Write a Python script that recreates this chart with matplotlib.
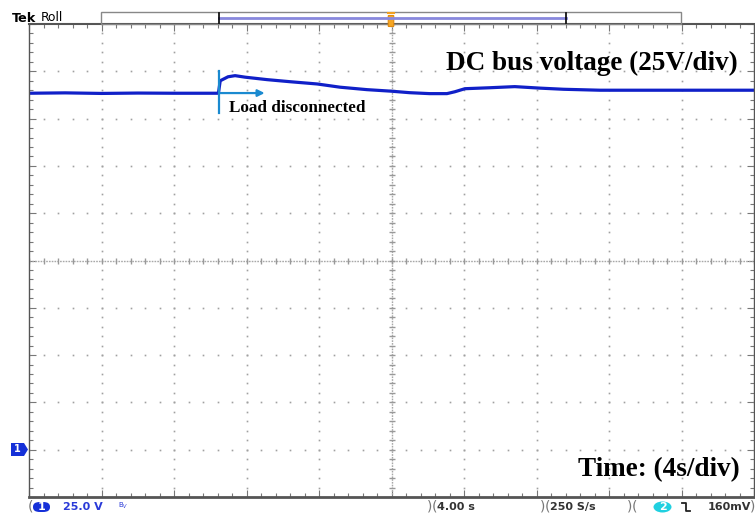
import numpy as np
import matplotlib.pyplot as plt
from matplotlib import patches
from matplotlib.lines import Line2D

# DC bus voltage trace (time in s, voltage in V), 4 s/div and 25 V/div
time_s = [0.0, 2.0, 4.0, 6.0, 8.0, 10.0, 10.45, 10.55, 10.98, 11.37, 11.92,
          13.13, 14.4, 15.9, 17.16, 18.65, 19.97, 21.0, 22.1, 23.06, 23.5,
          24.05, 25.4, 26.8, 28.2, 29.5, 31.5, 34.3, 37.0, 40.0]
voltage_v = [188.4, 188.6, 188.3, 188.5, 188.4, 188.4, 188.4, 195.0, 197.1,
             197.7, 196.9, 195.6, 194.5, 193.3, 191.6, 190.3, 189.5, 188.7,
             188.2, 188.2, 189.2, 190.8, 191.3, 191.9, 191.1, 190.5, 190.0,
             190.0, 190.0, 190.0]

event_time = 10.5          # load disconnected
event_span = (178.0, 200.0)
arrow_end = 13.0
arrow_level = 188.5

x_div, y_div = 4.0, 25.0
x_lim = (0.0, 40.0)
y_lim = (-25.0, 225.0)      # channel 1 ground sits one division above the bottom

W, H = 755, 516
fig = plt.figure(figsize=(W / 100, H / 100), dpi=100)
ax = fig.add_axes([29 / W, 19 / H, 725 / W, 473 / H])
ax.set_xlim(*x_lim)
ax.set_ylim(*y_lim)
ax.set_xticks(np.arange(x_lim[0], x_lim[1] + 0.1, x_div))
ax.set_yticks(np.arange(y_lim[0], y_lim[1] + 0.1, y_div))
ax.set_xticks(np.arange(x_lim[0], x_lim[1] + 0.1, x_div / 5), minor=True)
ax.set_yticks(np.arange(y_lim[0], y_lim[1] + 0.1, y_div / 5), minor=True)
ax.tick_params(which='both', direction='in', top=True, right=True,
               labelbottom=False, labelleft=False, color='#777777', width=0.8)
ax.tick_params(which='major', length=5)
ax.tick_params(which='minor', length=3)
for side in ax.spines.values():
    side.set_color('#555555')
    side.set_linewidth(1.0)
ax.spines['bottom'].set_linewidth(2.0)
ax.spines['top'].set_linewidth(1.5)

# dotted graticule
xmaj = np.arange(x_lim[0] + x_div, x_lim[1], x_div)
ymaj = np.arange(y_lim[0] + y_div, y_lim[1], y_div)
xmin = np.arange(x_lim[0], x_lim[1] + 0.01, x_div / 5)
ymin = np.arange(y_lim[0], y_lim[1] + 0.01, y_div / 5)
xc, yc = sum(x_lim) / 2, sum(y_lim) / 2
for xv in xmaj:
    if xv != xc:
        ax.plot([xv] * len(ymin), ymin, ls='none', marker='s', ms=1.2,
                color='#a0a0a0', mec='none')
for yv in ymaj:
    if yv != yc:
        ax.plot(xmin, [yv] * len(xmin), ls='none', marker='s', ms=1.2,
                color='#a0a0a0', mec='none')

# center crosshair with minor ticks
ax.axhline(yc, color='#a8a8a8', lw=1.0, ls=(0, (1.2, 0.8)))
ax.axvline(xc, color='#a8a8a8', lw=1.0, ls=(0, (1.2, 0.8)))
ax.plot(xmin, [yc] * len(xmin), ls='none', marker='|', ms=5, color='#999999')
ax.plot([xc] * len(ymin), ymin, ls='none', marker='_', ms=5, color='#999999')

# waveform
ax.plot(time_s, voltage_v, color='#1020c8', lw=2.3, solid_joinstyle='round')

# event marker
ax.plot([event_time, event_time], event_span, color='#1a8ad0', lw=1.6)
ax.annotate('', xy=(arrow_end, arrow_level), xytext=(event_time, arrow_level),
            arrowprops=dict(arrowstyle='-|>', color='#1a8ad0', lw=1.6,
                            mutation_scale=10, shrinkA=0, shrinkB=0))
ax.text(event_time + 0.55, 180.5, 'Load disconnected', family='Liberation Serif',
        weight='bold', fontsize=12.3, va='center', ha='left')

ax.text(0.978, 0.917, 'DC bus voltage (25V/div)', transform=ax.transAxes,
        family='Liberation Serif', weight='bold', fontsize=19.5, ha='right', va='center')
ax.text(0.98, 0.058, 'Time: (4s/div)', transform=ax.transAxes,
        family='Liberation Serif', weight='bold', fontsize=19.5, ha='right', va='center')


def fx(x):
    return x / W


def fy(y):
    return 1 - y / H


# header: Tek Roll and record view
fig.text(fx(12), fy(18), 'Tek', fontsize=9.2, weight='bold', va='center',
         family='DejaVu Sans')
fig.text(fx(41), fy(17.5), 'Roll', fontsize=8.8, va='center', family='DejaVu Sans')
fig.add_artist(patches.Rectangle((fx(101), fy(24)), fx(580), 12 / H,
                                 transform=fig.transFigure, fill=False,
                                 ec='#888888', lw=1.0))
fig.add_artist(Line2D([fx(219), fx(566)], [fy(17.5), fy(17.5)],
                      transform=fig.transFigure, color='#8888dd', lw=2.0))
for xb in (219, 566):
    fig.add_artist(Line2D([fx(xb), fx(xb)], [fy(13), fy(23)],
                          transform=fig.transFigure, color='black', lw=1.2))
fig.add_artist(Line2D([fx(388), fx(394)], [fy(13), fy(13)],
                      transform=fig.transFigure, color='#f0a020', lw=1.5))
fig.add_artist(patches.FancyBboxPatch((fx(389), fy(26)), 4 / W, 10 / H,
                                      boxstyle='round,pad=0.001',
                                      transform=fig.transFigure,
                                      fc='#f5a623', ec='#e08a10', lw=0.8))

# channel 1 ground marker
fig.add_artist(patches.Polygon([(fx(11), fy(443)), (fx(24), fy(443)),
                                (fx(28), fy(449.5)), (fx(24), fy(456)),
                                (fx(11), fy(456))], closed=True,
                               transform=fig.transFigure, fc='#1530d8', ec='none'))
fig.text(fx(17.5), fy(449.5), '1', color='white', fontsize=7, weight='bold',
         ha='center', va='center')

# status bar
ys = fy(507)
bar_kw = dict(fontsize=8, weight='bold', va='center', family='DejaVu Sans')
fig.text(fx(28), ys, '(', color='#777777', fontsize=10, va='center')
fig.add_artist(patches.FancyBboxPatch((fx(33), fy(512)), 17 / W, 10 / H,
                                      boxstyle='round,pad=0.0,rounding_size=0.009',
                                      transform=fig.transFigure,
                                      fc='#1530d8', ec='none'))
fig.text(fx(41.5), ys, '1', color='white', ha='center', **bar_kw)
fig.text(fx(63), ys, '25.0 V', color='#2a3ad8', **bar_kw)
fig.text(fx(118), fy(506), 'B$_V$', color='#2a3ad8', fontsize=5, va='center')
fig.text(fx(427), ys, ')', color='#777777', fontsize=10, va='center')
fig.text(fx(432), ys, '(', color='#777777', fontsize=10, va='center')
fig.text(fx(437), ys, '4.00 s', color='#333333', **bar_kw)
fig.text(fx(540), ys, ')', color='#777777', fontsize=10, va='center')
fig.text(fx(545), ys, '(', color='#777777', fontsize=10, va='center')
fig.text(fx(550), ys, '250 S/s', color='#333333', **bar_kw)
fig.text(fx(627), ys, ')', color='#777777', fontsize=10, va='center')
fig.text(fx(632), ys, '(', color='#777777', fontsize=10, va='center')
fig.add_artist(patches.Ellipse((fx(662.5), ys), 18 / W, 11 / H,
                               transform=fig.transFigure, fc='#20d0e0', ec='none'))
fig.text(fx(662.5), ys, '2', color='white', ha='center', **bar_kw)
fig.add_artist(Line2D([fx(682), fx(686), fx(686), fx(690)],
                      [fy(503), fy(503), fy(511), fy(511)],
                      transform=fig.transFigure, color='#222222', lw=1.3))
fig.text(fx(708), ys, '160mV', color='#333333', **bar_kw)
fig.text(fx(750), ys, ')', color='#777777', fontsize=10, va='center')

fig.savefig('out.png', dpi=100)
